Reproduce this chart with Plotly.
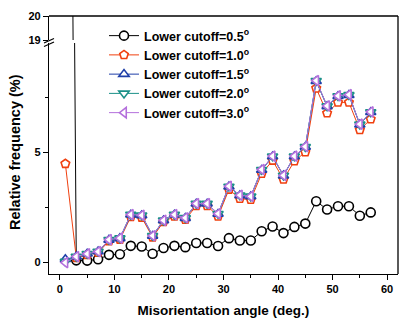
import plotly.graph_objects as go

angle = [1, 3, 5, 7, 9, 11, 13, 15, 17, 19, 21, 23, 25, 27, 29, 31, 33, 35, 37, 39,
         41, 43, 45, 47, 49, 51, 53, 55, 57]

f05 = [65.0, 0.10, 0.09, 0.15, 0.35, 0.38, 0.76, 0.73, 0.40, 0.66, 0.76, 0.70, 0.89, 0.89,
       0.75, 1.11, 1.00, 1.00, 1.42, 1.64, 1.34, 1.62, 1.77, 2.79, 2.41, 2.56, 2.56, 2.13, 2.28]
f10 = [4.49, 0.22, 0.35, 0.45, 0.98, 1.05, 2.08, 2.05, 1.15, 1.85, 2.10, 1.95, 2.58, 2.58,
       2.10, 3.32, 2.91, 2.86, 4.04, 4.64, 3.78, 4.61, 5.02, 7.92, 6.79, 7.28, 7.28, 6.03, 6.52]
f15 = [0.15, 0.27, 0.40, 0.50, 1.03, 1.10, 2.17, 2.14, 1.21, 1.91, 2.17, 2.02, 2.67, 2.67,
       2.21, 3.45, 3.05, 3.00, 4.21, 4.82, 3.95, 4.82, 5.25, 8.24, 7.10, 7.56, 7.61, 6.27, 6.83]
f20 = [0.05, 0.27, 0.40, 0.50, 1.04, 1.11, 2.18, 2.15, 1.22, 1.92, 2.18, 2.03, 2.68, 2.68,
       2.22, 3.46, 3.06, 3.01, 4.22, 4.83, 3.96, 4.83, 5.26, 8.26, 7.11, 7.57, 7.62, 6.28, 6.84]
f30 = [0.00, 0.27, 0.40, 0.50, 1.04, 1.11, 2.18, 2.15, 1.22, 1.92, 2.18, 2.03, 2.68, 2.68,
       2.22, 3.47, 3.06, 3.01, 4.23, 4.84, 3.96, 4.84, 5.27, 8.27, 7.12, 7.58, 7.63, 6.29, 6.85]

names = ["Lower cutoff=0.5<sup>o</sup>", "Lower cutoff=1.0<sup>o</sup>",
         "Lower cutoff=1.5<sup>o</sup>", "Lower cutoff=2.0<sup>o</sup>",
         "Lower cutoff=3.0<sup>o</sup>"]
series = [f05, f10, f15, f20, f30]
colors = ["#000000", "#F0400F", "#1F3FA8", "#1A9088", "#B470DC"]
symbols = ["circle", "pentagon", "triangle-up", "triangle-down", "triangle-left"]

FONT = "Arial, Liberation Sans, sans-serif"
W, H = 403, 322
L, R, T, B = 49, 5, 16, 48
PW, PH = W - L - R, H - T - B

def px(x):
    return (x - L) / PW

def py(y):
    return (H - B - y) / PH

fig = go.Figure()
for s, n, c, sym in zip(series, names, colors, symbols):
    fig.add_trace(go.Scatter(
        x=angle, y=s, name=n, mode="lines+markers",
        line=dict(color=c, width=1),
        marker=dict(symbol=sym, size=9, color="white", line=dict(color=c, width=1.6)),
        xaxis="x", yaxis="y"))

# upper segment of broken axis: the 0.5 deg series continues into it
fig.add_trace(go.Scatter(
    x=angle, y=f05, mode="lines", showlegend=False,
    line=dict(color=colors[0], width=1), xaxis="x2", yaxis="y2"))

axis_common = dict(showline=True, linecolor="black", linewidth=1.3, ticks="outside",
                   tickcolor="black", tickwidth=1.2, showgrid=False, zeroline=False,
                   tickfont=dict(family=FONT, size=11, color="black", weight="bold"))

lower_top = py(43)
upper_bot = py(40)

fig.update_layout(
    width=W, height=H, margin=dict(l=L, r=R, t=T, b=B),
    paper_bgcolor="white", plot_bgcolor="white",
    xaxis=dict(domain=[0, 1], range=[-2, 62], dtick=10, tick0=0, ticklen=5,
               minor=dict(ticks="outside", dtick=5, ticklen=3, tickcolor="black"),
               anchor="y",
               title=dict(text="Misorientation angle (deg.)", standoff=11,
                          font=dict(family=FONT, size=13.5, color="black", weight="bold")),
               **axis_common),
    yaxis=dict(domain=[0, lower_top], range=[-0.52, 9.98], dtick=5, tick0=0, ticklen=5,
               minor=dict(ticks="outside", dtick=2.5, ticklen=3, tickcolor="black"),
               anchor="x", **axis_common),
    xaxis2=dict(domain=[0, 1], range=[-2, 62], anchor="y2", visible=False),
    yaxis2=dict(domain=[upper_bot, 1], range=[19, 20], tickvals=[19, 20], ticklen=5,
                anchor="x2", **axis_common),
    legend=dict(x=px(104), y=py(21), xanchor="left", yanchor="top",
                bgcolor="rgba(0,0,0,0)", borderwidth=0,
                font=dict(family=FONT, size=12.5, color="black", weight="bold"),
                tracegroupgap=0),
    showlegend=True,
)

shapes = [
    # top and right frame
    dict(type="line", xref="paper", yref="paper", x0=0, x1=1, y0=1, y1=1,
         line=dict(color="black", width=1.3)),
    dict(type="line", xref="paper", yref="paper", x0=1, x1=1, y0=0, y1=1,
         line=dict(color="black", width=1.3)),
    # axis break marks
    dict(type="line", xref="paper", yref="paper", x0=px(44), x1=px(54), y0=py(43), y1=py(38.5),
         line=dict(color="black", width=1.2)),
    dict(type="line", xref="paper", yref="paper", x0=px(44), x1=px(54), y0=py(46.5), y1=py(42),
         line=dict(color="black", width=1.2)),
]
fig.update_layout(shapes=shapes)

fig.add_annotation(text="Relative frequency (%)", xref="paper", yref="paper",
                   x=px(15), y=py(152), textangle=-90, showarrow=False,
                   xanchor="center", yanchor="middle",
                   font=dict(family=FONT, size=14.5, color="black", weight="bold"))

fig.write_html("out.html")
